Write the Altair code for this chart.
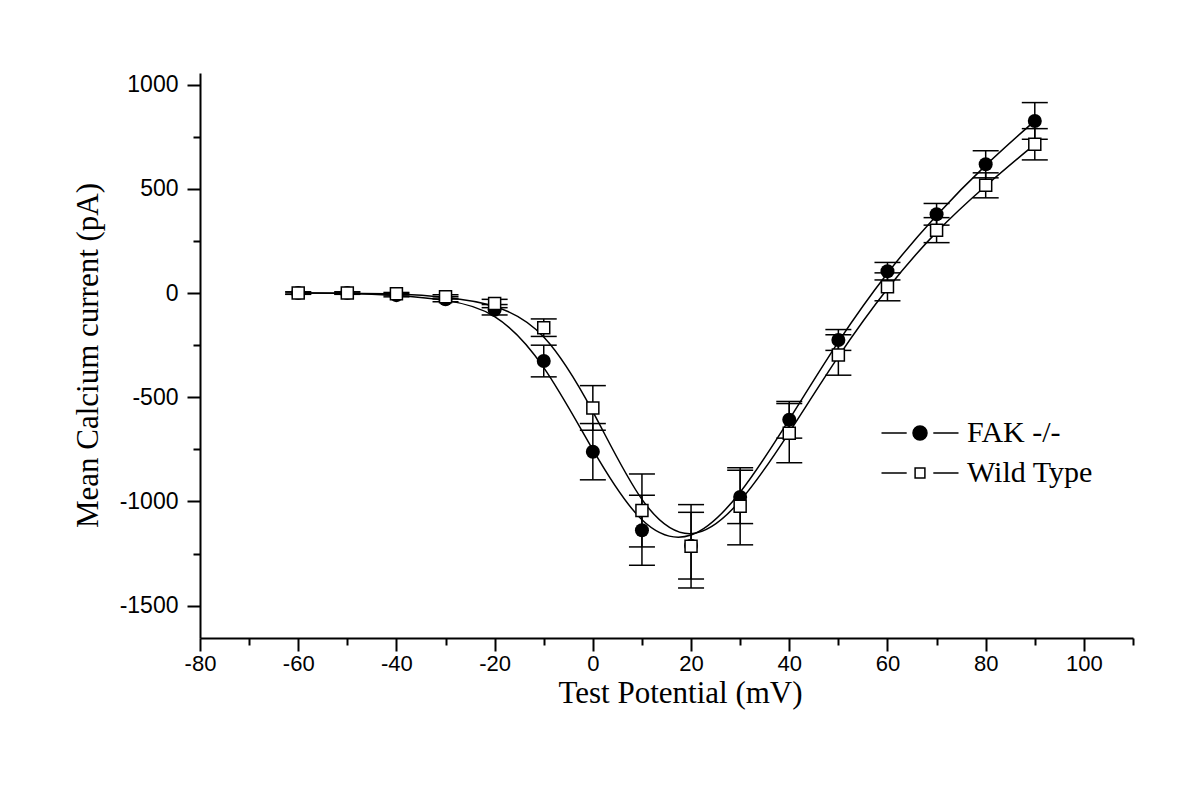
import altair as alt
import pandas as pd

# ---- data ----
volts = [-60, -50, -40, -30, -20, -10, 0, 10, 20, 30, 40, 50, 60, 70, 80, 90]
fak_mean = [0, 0, -10, -30, -80, -326, -761, -1138, -1212, -978, -608, -225, 105, 378, 618, 826]
fak_err = [6, 6, 8, 12, 25, 76, 135, 168, 160, 128, 88, 50, 42, 52, 65, 88]
wt_mean = [0, 0, -3, -18, -50, -166, -551, -1043, -1215, -1023, -672, -297, 30, 302, 517, 714]
wt_err = [5, 5, 6, 10, 20, 42, 107, 175, 200, 185, 142, 97, 67, 60, 60, 75]
series_names = ["FAK -/-", "Wild Type"]

x_major = [-80, -60, -40, -20, 0, 20, 40, 60, 80, 100]
x_minor = [-70, -50, -30, -10, 10, 30, 50, 70, 90, 110]
y_major = [-1500, -1000, -500, 0, 500, 1000]
y_minor = [-1250, -750, -250, 250, 750]

rows = []
for name, means, errs in [(series_names[0], fak_mean, fak_err), (series_names[1], wt_mean, wt_err)]:
    for v, m, e in zip(volts, means, errs):
        rows.append({"v": v, "current": m, "err": e, "series": name})
df = pd.DataFrame(rows)

serif = "Liberation Serif"
sans = "Liberation Sans"

x_scale = alt.Scale(domain=[-80, 110], nice=False, zero=False)
y_scale = alt.Scale(domain=[-1655, 1056], nice=False, zero=False)

x_major_axis = alt.Axis(
    values=x_major, orient="bottom", grid=False,
    domain=True, domainColor="black", domainWidth=2,
    ticks=True, tickSize=13, tickWidth=2, tickColor="black",
    labelFont=sans, labelFontSize=22, labelColor="black", labelPadding=2,
    labelFlush=False, labelOverlap=False, labelExpr="'' + datum.value",
    title="Test Potential (mV)", titleFont=serif, titleFontSize=31,
    titleFontWeight="normal", titleColor="black",
    titleX=480, titleY=64, titleBaseline="alphabetic", titleAlign="center",
)
y_major_axis = alt.Axis(
    values=y_major, orient="left", grid=False,
    domain=True, domainColor="black", domainWidth=2,
    ticks=True, tickSize=13, tickWidth=2, tickColor="black",
    labelFont=sans, labelFontSize=23, labelColor="black", labelPadding=9,
    labelFlush=False, labelOverlap=False, labelExpr="'' + datum.value",
    title="Mean Calcium current (pA)", titleFont=serif, titleFontSize=31,
    titleFontWeight="normal", titleColor="black",
    titleX=-103, titleY=282, titleBaseline="alphabetic", titleAlign="center", titleAngle=-90,
)
x_minor_axis = alt.Axis(
    values=x_minor, orient="bottom", grid=False, domain=False,
    ticks=True, tickSize=7, tickWidth=2, tickColor="black",
    labels=False, title=None,
)
y_minor_axis = alt.Axis(
    values=y_minor, orient="left", grid=False, domain=False,
    ticks=True, tickSize=7, tickWidth=2, tickColor="black",
    labels=False, title=None,
)

base = alt.Chart(df)

lines = base.mark_line(interpolate="basis", color="black", strokeWidth=1.5).encode(
    x=alt.X("v:Q", scale=x_scale, axis=x_major_axis),
    y=alt.Y("current:Q", scale=y_scale, axis=y_major_axis),
    detail="series:N",
)

with_bounds = base.transform_calculate(
    lo="datum.current - datum.err", hi="datum.current + datum.err"
)

err_rule = with_bounds.mark_rule(color="black", strokeWidth=1.5).encode(
    x=alt.X("v:Q", scale=x_scale, axis=x_minor_axis),
    y=alt.Y("lo:Q", scale=y_scale, axis=y_minor_axis),
    y2="hi:Q",
)

caps_lo = with_bounds.mark_tick(orient="horizontal", size=26, thickness=1.5, color="black", opacity=1).encode(
    x=alt.X("v:Q", scale=x_scale, axis=None),
    y=alt.Y("lo:Q", scale=y_scale, axis=None),
)
caps_hi = with_bounds.mark_tick(orient="horizontal", size=26, thickness=1.5, color="black", opacity=1).encode(
    x=alt.X("v:Q", scale=x_scale, axis=None),
    y=alt.Y("hi:Q", scale=y_scale, axis=None),
)

circles = base.transform_filter(alt.datum.series == series_names[0]).mark_circle(
    size=196, color="black", opacity=1
).encode(
    x=alt.X("v:Q", scale=x_scale, axis=None),
    y=alt.Y("current:Q", scale=y_scale, axis=None),
)

squares = base.transform_filter(alt.datum.series == series_names[1]).mark_square(
    size=144, fill="white", stroke="black", strokeWidth=1.5, opacity=1, filled=True
).encode(
    x=alt.X("v:Q", scale=x_scale, axis=None),
    y=alt.Y("current:Q", scale=y_scale, axis=None),
)

path_fak = "M-5.5,0L-1.9,0M1.9,0L5.5,0M-1,0A1,1,0,1,0,1,0A1,1,0,1,0,-1,0Z"
path_wt = "M-5.5,0L-1.9,0M1.9,0L5.5,0M-0.7,-0.7L0.7,-0.7L0.7,0.7L-0.7,0.7Z"


def legend_entry(name, path, fill, ly):
    return base.transform_filter("datum.v > 100000").mark_point(
        filled=False, fill=fill, stroke="black", strokeWidth=1.5, opacity=1
    ).encode(
        x=alt.X("v:Q", scale=x_scale, axis=None),
        y=alt.Y("current:Q", scale=y_scale, axis=None),
        shape=alt.Shape(
            "series:N",
            scale=alt.Scale(domain=[name], range=[path]),
            legend=alt.Legend(
                title=None, orient="none", legendX=705, legendY=ly, padding=0,
                labelFont=serif, labelFontSize=30, labelColor="black", labelOffset=32,
                symbolSize=196, symbolType=path, symbolStrokeWidth=1.5, symbolOpacity=1,
            ),
        ),
    )


leg_fak = legend_entry(series_names[0], path_fak, "black", 345)
leg_wt = legend_entry(series_names[1], path_wt, "white", 385)

chart = alt.layer(
    lines, err_rule, caps_lo, caps_hi, circles, squares, leg_fak, leg_wt
).resolve_axis(
    x="independent", y="independent"
).resolve_scale(
    shape="independent"
).properties(
    width=933, height=565,
    autosize=alt.AutoSizeParams(type="none"),
    padding={"left": 192, "top": 65, "right": 50, "bottom": 140},
    background="white",
).configure_view(stroke=None)

chart.save("out.html", embed_options={"renderer": "svg", "actions": False})
